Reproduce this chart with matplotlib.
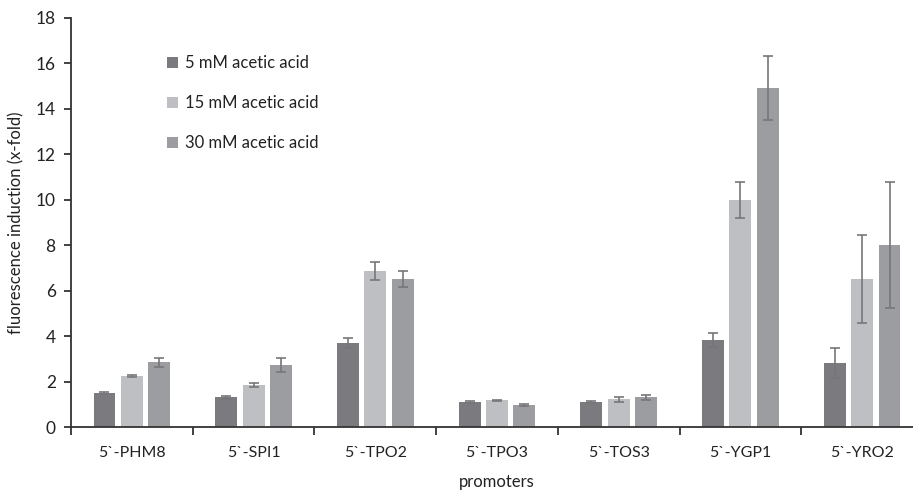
import matplotlib
matplotlib.use("Agg")
import matplotlib.pyplot as plt
import numpy as np

plt.rcParams['font.family'] = ['Lato', 'DejaVu Sans']

categories = ["5`-PHM8", "5`-SPI1", "5`-TPO2", "5`-TPO3", "5`-TOS3", "5`-YGP1", "5`-YRO2"]
series_labels = ["5 mM acetic acid", "15 mM acetic acid", "30 mM acetic acid"]
vals_5 = [1.5, 1.3, 3.68, 1.1, 1.1, 3.83, 2.82]
vals_15 = [2.25, 1.85, 6.87, 1.17, 1.22, 9.99, 6.51]
vals_30 = [2.85, 2.72, 6.51, 0.97, 1.3, 14.92, 8.02]
err_5 = [0.05, 0.08, 0.22, 0.03, 0.03, 0.29, 0.67]
err_15 = [0.04, 0.08, 0.41, 0.04, 0.12, 0.8, 1.93]
err_30 = [0.2, 0.32, 0.37, 0.04, 0.1, 1.39, 2.78]
colors = ["#7b7b7f", "#bebfc3", "#9c9da1"]

W, H = 913, 492
fig = plt.figure(figsize=(W/100, H/100), dpi=100)
ax = fig.add_axes([71/W, 1-427/H, (923-71)/W, (427-18)/H])

x = np.arange(len(categories))
offsets = [-0.225, 0.0, 0.225]
width = 0.18
for vals, errs, off, c, lab in zip([vals_5, vals_15, vals_30], [err_5, err_15, err_30], offsets, colors, series_labels):
    ax.bar(x + off, vals, width, color=c, label=lab, zorder=2)
    ax.errorbar(x + off, vals, yerr=errs, fmt='none', ecolor="#77777a", elinewidth=1.2,
                capsize=3.6, capthick=1.2, zorder=3)

ax.set_xlim(-0.5, 6.5)
ax.set_ylim(0, 18)
ax.set_yticks(np.arange(0, 19, 2))
ax.set_xticks(x)
ax.set_xticklabels(categories)
ax.set_xticks(np.arange(-0.5, 7, 1), minor=True)
ax.tick_params(axis='x', which='major', length=0, pad=14, labelsize=11.5, colors='#222222')
ax.tick_params(axis='x', which='minor', length=6, width=1.3, color='#333333', direction='out')
ax.tick_params(axis='y', length=5, width=1.3, color='#333333', labelsize=12.5, labelcolor='#222222', pad=6)
for s in ['top', 'right']:
    ax.spines[s].set_visible(False)
for s in ['left', 'bottom']:
    ax.spines[s].set_color('#333333')
    ax.spines[s].set_linewidth(1.3)

ax.set_ylabel("fluorescence induction (x-fold)", fontsize=12, color='#222222', labelpad=8)
fig.text(497/W, 1-482/H, "promoters", ha='center', va='center', fontsize=12, color='#222222')

leg = ax.legend(loc='upper left', bbox_to_anchor=((152-71)/(923-71), (427-40)/(427-18)),
                frameon=False, fontsize=12, handlelength=0.65, handleheight=0.65,
                handletextpad=0.45, labelspacing=1.45)
for t in leg.get_texts():
    t.set_color('#222222')

fig.savefig("out.png", dpi=100)
